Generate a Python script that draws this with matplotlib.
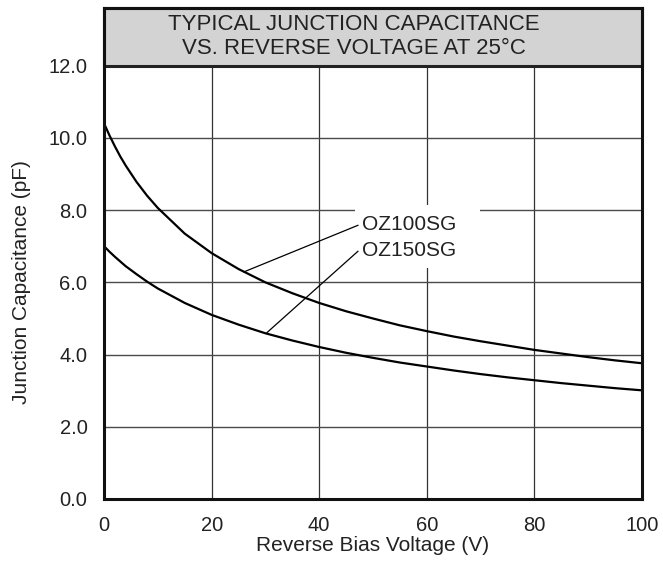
import matplotlib
matplotlib.use("Agg")
import matplotlib.pyplot as plt
from matplotlib.patches import Rectangle

plt.rcParams['font.family'] = ['Liberation Sans', 'DejaVu Sans']

# Reverse bias voltage (V) and junction capacitance (pF)
voltage = [0, 1, 2, 3, 4, 6, 8, 10, 15, 20, 25, 30, 35, 40, 45, 50, 55, 60, 65, 70, 75, 80, 85, 90, 95, 100]
cap_oz100sg = [10.40, 10.07, 9.77, 9.49, 9.24, 8.79, 8.40, 8.06, 7.35, 6.81, 6.37, 6.00, 5.70, 5.43,
               5.20, 5.00, 4.81, 4.65, 4.50, 4.37, 4.25, 4.13, 4.03, 3.93, 3.84, 3.76]
cap_oz150sg = [7.00, 6.85, 6.71, 6.58, 6.45, 6.23, 6.02, 5.83, 5.43, 5.10, 4.83, 4.59, 4.39, 4.21,
               4.05, 3.91, 3.78, 3.67, 3.56, 3.46, 3.37, 3.29, 3.21, 3.14, 3.07, 3.01]

x_ticks = [0, 20, 40, 60, 80, 100]
y_ticks = [0.0, 2.0, 4.0, 6.0, 8.0, 10.0, 12.0]
series_names = ["OZ100SG", "OZ150SG"]
title_lines = ["TYPICAL JUNCTION CAPACITANCE", "VS. REVERSE VOLTAGE AT 25°C"]

fig = plt.figure(figsize=(6.63, 5.63), dpi=100)
ax = fig.add_axes([0.157, 0.1137, 0.811, 0.8721])

ymax = 13.6
ax.set_xlim(0, 100)
ax.set_ylim(0, ymax)

# grid below the header band
for xv in x_ticks[1:-1]:
    ax.plot([xv, xv], [0, 12], color='#333333', lw=0.9, zorder=1)
for yv in y_ticks[1:-1]:
    ax.plot([0, 100], [yv, yv], color='#4a4a4a', lw=1.0, zorder=1)

# header band
ax.add_patch(Rectangle((0, 12), 100, ymax - 12, facecolor='#d3d3d3', edgecolor='#222222',
                       lw=2.2, zorder=3, clip_on=False))
ax.text(46.5, 12.80, "\n".join(title_lines), ha='center', va='center', fontsize=16,
        color='#222222', linespacing=1.2, zorder=4)

# curves
ax.plot(voltage, cap_oz100sg, color='black', lw=1.6, zorder=5)
ax.plot(voltage, cap_oz150sg, color='black', lw=1.6, zorder=5)

# label area with white backing and leader lines
ax.add_patch(Rectangle((46.7, 6.4), 23.2, 1.74, facecolor='white', edgecolor='none', zorder=2))
ax.text(47.9, 7.60, series_names[0], ha='left', va='center', fontsize=15, color='#222222', zorder=6)
ax.text(47.9, 6.89, series_names[1], ha='left', va='center', fontsize=15, color='#222222', zorder=6)
ax.plot([26.0, 47.2], [6.29, 7.58], color='black', lw=0.9, zorder=6)
ax.plot([30.3, 47.2], [4.61, 6.86], color='black', lw=0.9, zorder=6)

ax.set_xticks(x_ticks)
ax.set_xticklabels([str(v) for v in x_ticks])
ax.set_yticks(y_ticks)
ax.set_yticklabels([f"{v:.1f}" for v in y_ticks])
ax.tick_params(length=0, labelsize=14.5, colors='#222222')
ax.tick_params(axis='x', pad=12)
ax.tick_params(axis='y', pad=12)

for s in ax.spines.values():
    s.set_linewidth(2.2)
    s.set_color('#111111')
    s.set_zorder(7)

ax.set_xlabel("Reverse Bias Voltage (V)", fontsize=15, color='#222222', labelpad=1)
ax.set_ylabel("Junction Capacitance (pF)", fontsize=15, color='#222222')
ax.yaxis.set_label_coords(-0.136, 6 / ymax)

fig.savefig("out.png", dpi=100)
